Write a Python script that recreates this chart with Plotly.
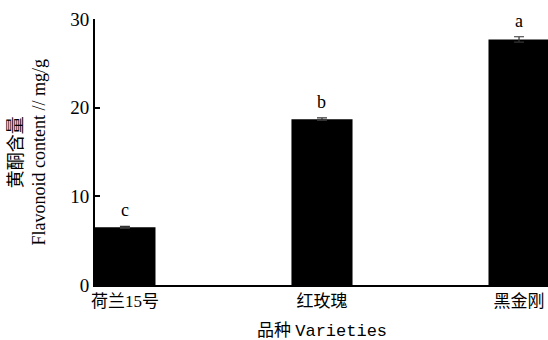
import plotly.graph_objects as go

# Flavonoid content of three varieties (mg/g)
varieties = ["荷兰15号", "红玫瑰", "黑金刚"]
flavonoid = [6.5, 18.7, 27.7]
flavonoid_err = [0.12, 0.15, 0.3]
sig_letters = ["c", "b", "a"]
y_ticks = [0, 10, 20, 30]

SERIF = "Liberation Serif, Times New Roman, Noto Sans CJK SC, serif"
positions = list(range(len(varieties)))

fig = go.Figure()
fig.add_trace(go.Bar(
    x=positions,
    y=flavonoid,
    width=0.31,
    marker=dict(color="black", line=dict(width=0)),
    error_y=dict(type="data", array=flavonoid_err, visible=True,
                 color="#333333", thickness=1.2, width=5),
    showlegend=False,
))

# significance letters above each bar
for xi, v, e, s in zip(positions, flavonoid, flavonoid_err, sig_letters):
    fig.add_annotation(x=xi, y=v + e, xref="x", yref="y", text=s,
                       showarrow=False, yanchor="bottom", yshift=4,
                       font=dict(family=SERIF, size=18, color="black"))

# two-line y-axis title
fig.add_annotation(
    xref="paper", yref="paper", x=0, y=0.5, xanchor="right", yanchor="middle",
    xshift=-45, textangle=-90, showarrow=False,
    text="黄酮含量<br>Flavonoid content // mg/g",
    font=dict(family=SERIF, size=18, color="black"),
)

# x-axis title
fig.add_annotation(
    xref="paper", yref="paper", x=0.5, y=0, xanchor="center", yanchor="top",
    yshift=-34, showarrow=False,
    text="品种 <span style='font-family:Liberation Mono, monospace'>Varieties</span>",
    font=dict(family=SERIF, size=17, color="black"),
)

fig.update_layout(
    width=548, height=340,
    margin=dict(l=95, r=0, t=19, b=55),
    paper_bgcolor="white", plot_bgcolor="white",
    font=dict(family=SERIF, size=17, color="black"),
)
fig.update_xaxes(
    range=[-0.152, 2.147], tickvals=positions, ticktext=varieties,
    showline=True, linecolor="black", linewidth=2, ticks="",
    showgrid=False, zeroline=False,
    tickfont=dict(family=SERIF, size=17, color="black"),
)
fig.update_yaxes(
    range=[0, 30], tickvals=y_ticks, ticks="inside", ticklen=5,
    tickwidth=2, tickcolor="black",
    showline=True, linecolor="black", linewidth=2,
    showgrid=False, zeroline=False,
    tickfont=dict(family=SERIF, size=19, color="black"),
)

fig.write_html("out.html")
